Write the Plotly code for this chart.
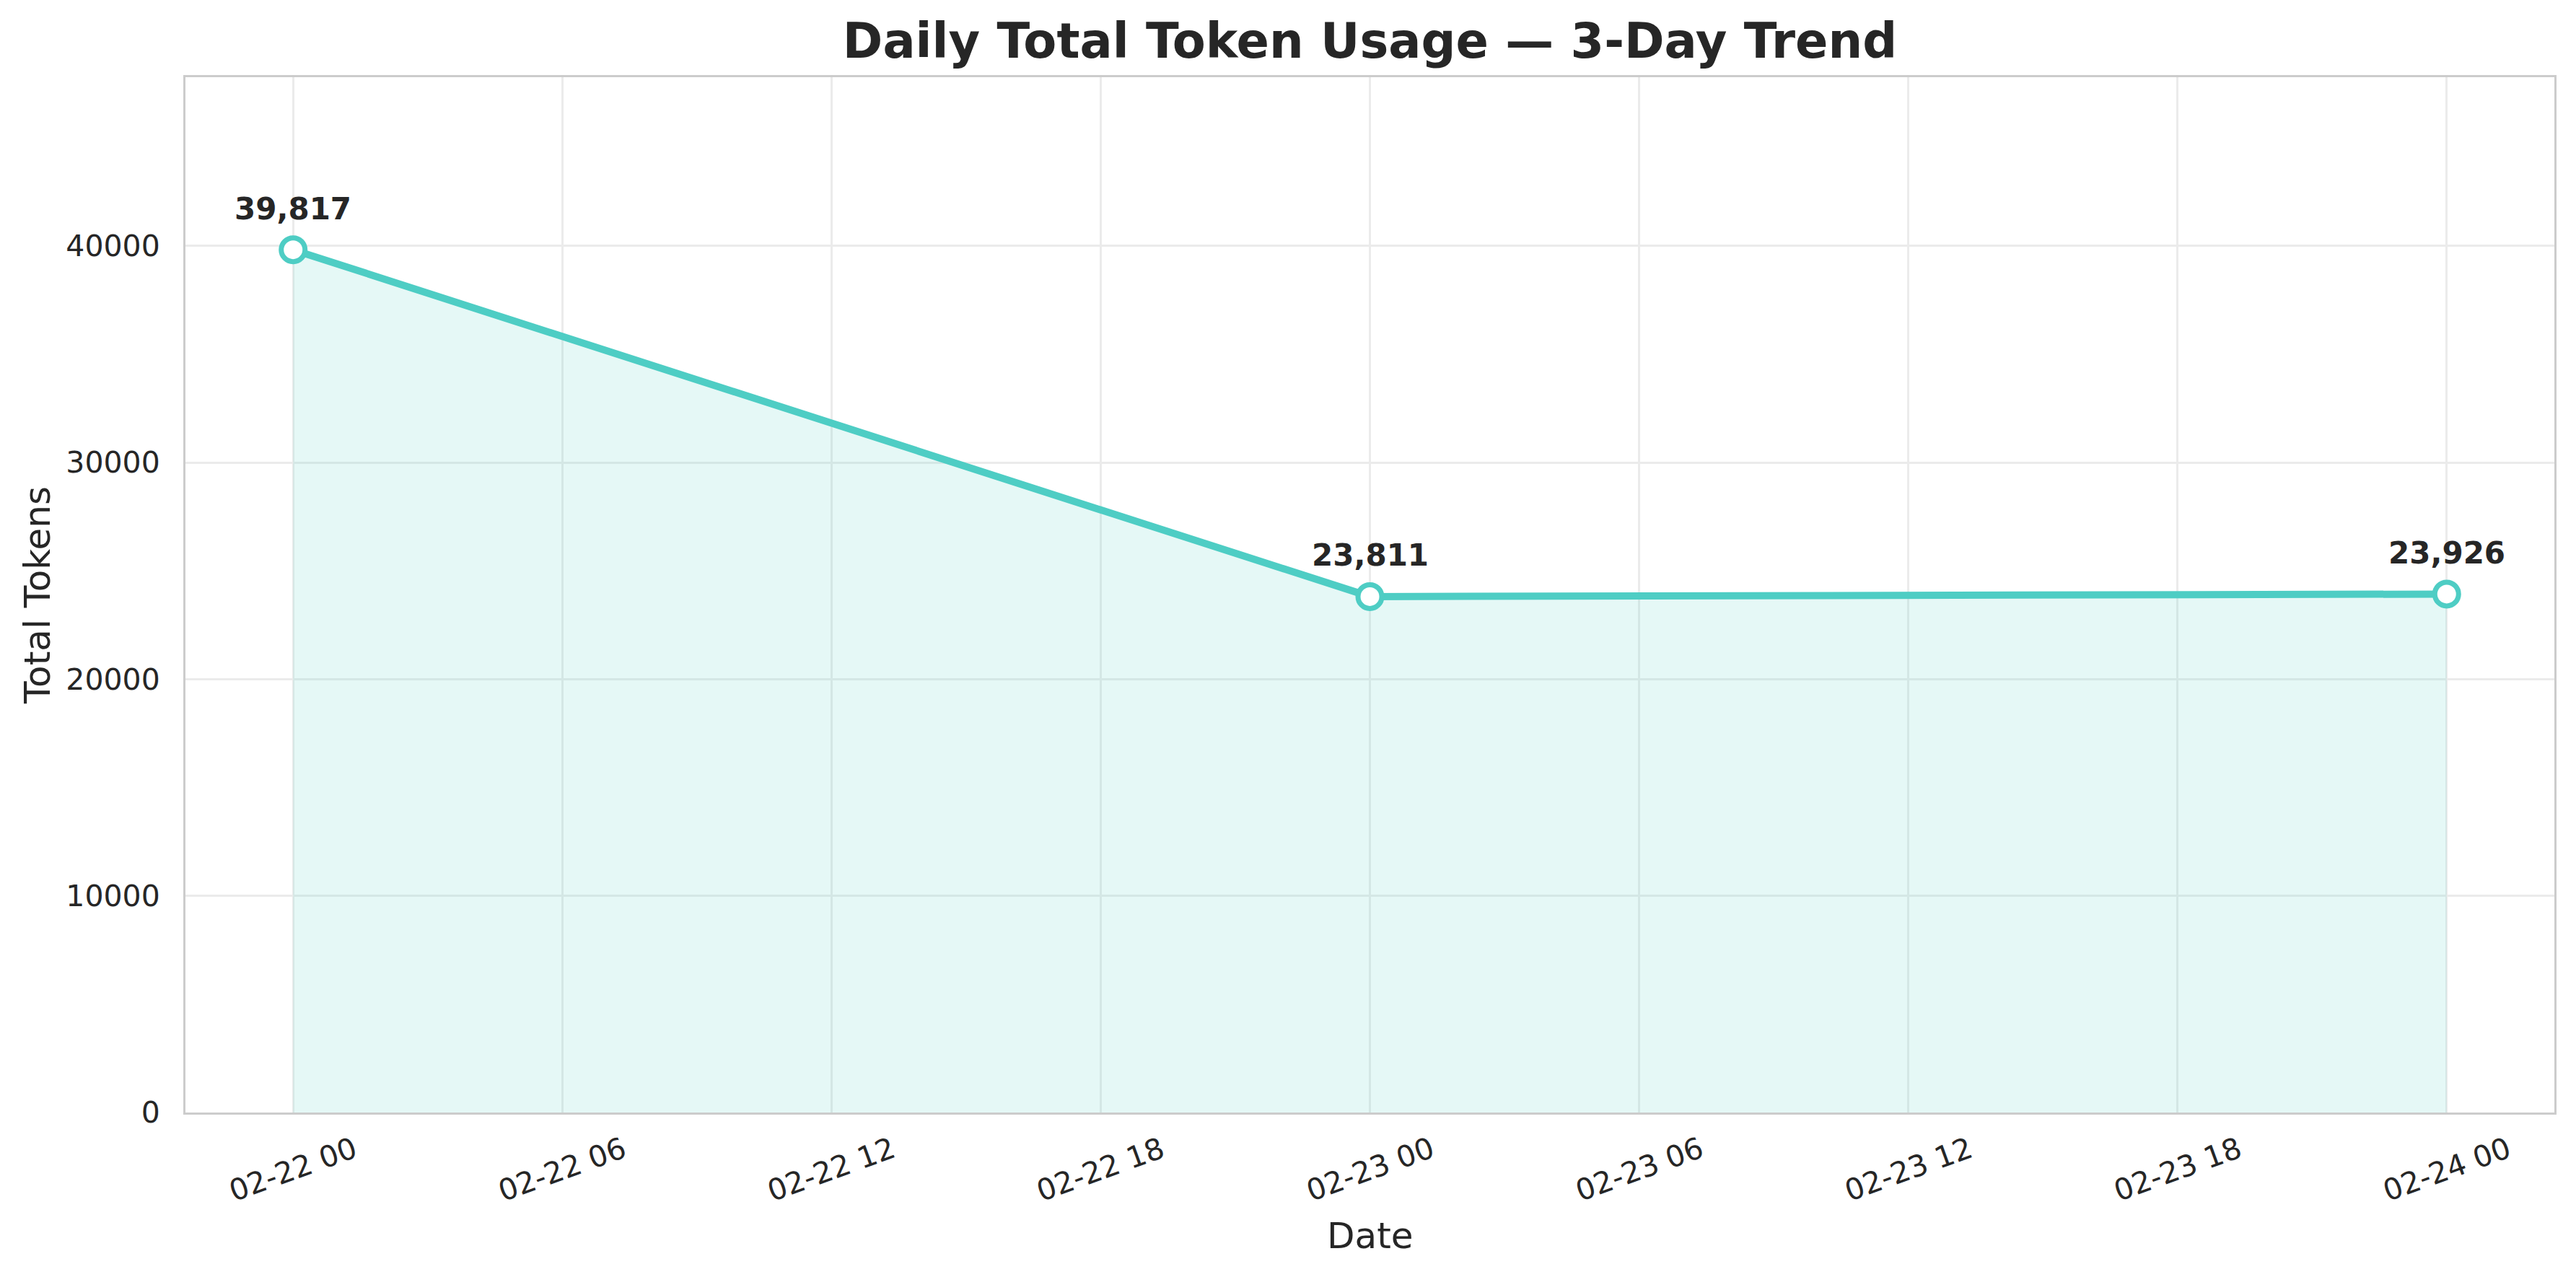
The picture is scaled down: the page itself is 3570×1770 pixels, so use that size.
import pandas as pd
import plotly.graph_objects as go

# ---- data ----
dates = ["2025-02-22", "2025-02-23", "2025-02-24"]
tokens = [39817, 23811, 23926]
y_ticks = [0, 10000, 20000, 30000, 40000]

title_text = "Daily Total Token Usage — 3-Day Trend"
x_title = "Date"
y_title = "Total Tokens"

LINE = "#4ECDC4"
TXT = "#262626"
FONT = "DejaVu Sans"

dt = pd.to_datetime(dates)
span = dt.max() - dt.min()
x_range = [dt.min() - span * 0.05, dt.max() + span * 0.05]
y_max = max(tokens) * 1.2

tick_pos = pd.date_range(dt.min(), dt.max(), freq="6h")
tick_labels = [t.strftime("%m-%d %H") for t in tick_pos]

fig = go.Figure()
fig.add_trace(go.Scatter(
    x=dt, y=tokens, mode="lines+markers",
    line=dict(color=LINE, width=10),
    marker=dict(symbol="circle", size=33, color="white", line=dict(color=LINE, width=7)),
    fill="tozeroy", fillcolor="rgba(78,205,196,0.15)",
    showlegend=False, hoverinfo="skip",
))

annotations = []
for x, v in zip(dt, tokens):
    annotations.append(dict(
        x=x, y=v, xref="x", yref="y", text=f"<b>{v:,}</b>", showarrow=False,
        yanchor="middle", xanchor="center", yshift=57,
        font=dict(family=FONT, size=42, color=TXT),
    ))
for t, lab in zip(tick_pos, tick_labels):
    annotations.append(dict(
        x=t, y=-0.0551, xref="x", yref="paper", text=lab, showarrow=False,
        textangle=-20, xanchor="center", yanchor="middle",
        font=dict(family=FONT, size=41, color=TXT),
    ))
annotations.append(dict(
    x=0.5, y=-0.1192, xref="paper", yref="paper", text=x_title, showarrow=False,
    xanchor="center", yanchor="middle", font=dict(family=FONT, size=50, color=TXT),
))

fig.update_layout(
    width=3570, height=1770,
    paper_bgcolor="white", plot_bgcolor="white",
    margin=dict(l=257, r=30, t=107, b=228),
    title=dict(text=f"<b>{title_text}</b>", x=0.5, xref="paper", xanchor="center",
               y=1 - 57 / 1770, yanchor="middle",
               font=dict(family=FONT, size=67, color=TXT)),
    annotations=annotations,
    font=dict(family=FONT, color=TXT),
)
fig.update_xaxes(
    type="date", range=x_range, tick0=dt.min(), dtick=6 * 3600 * 1000,
    showticklabels=False, ticks="",
    showgrid=True, gridcolor="#EBEBEB", gridwidth=3, zeroline=False,
    showline=True, mirror=True, linecolor="#CCCCCC", linewidth=3,
)
fig.update_yaxes(
    range=[0, y_max], tickvals=y_ticks, ticktext=[str(v) for v in y_ticks],
    ticks="", ticklabelstandoff=24,
    tickfont=dict(family=FONT, size=41, color=TXT),
    showgrid=True, gridcolor="#EBEBEB", gridwidth=3, zeroline=False,
    showline=True, mirror=True, linecolor="#CCCCCC", linewidth=3,
    title=dict(text=y_title, font=dict(family=FONT, size=50, color=TXT), standoff=6),
)

fig.write_html("out.html", config={"displayModeBar": False},
               post_script="document.body.style.margin='0';document.body.style.overflow='hidden';")
